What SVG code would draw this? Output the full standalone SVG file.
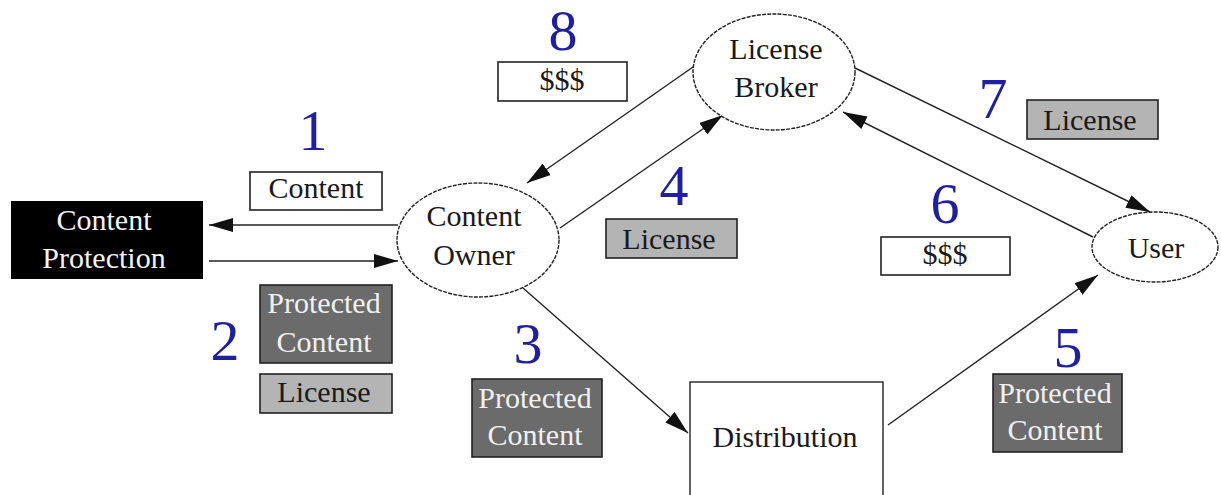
<svg xmlns="http://www.w3.org/2000/svg" width="1221" height="495" viewBox="0 0 1221 495" font-family="'Liberation Serif', 'DejaVu Serif', serif">
  <style>
    text { font-family: "Liberation Serif", "DejaVu Serif", serif; font-size: 30px; text-anchor: middle; fill: #1a1a1a; }
    .num { font-size: 58px; fill: #1f1f9f; }
    .node { fill: #ffffff; stroke: #222222; stroke-width: 1.4; }
    .oval { fill: #ffffff; stroke: #222222; stroke-width: 1.4; stroke-dasharray: 4 1.2; }
    .lbl { fill: #ffffff; stroke: #222222; stroke-width: 1.6; }
    .lic { fill: #b4b4b4; stroke: #222222; stroke-width: 1.6; }
    .prot { fill: #6b6b6b; stroke: #222222; stroke-width: 1.6; }
    .prot-t { fill: #f0f0f0; }
    .light { fill: #f2f2f2; }
    .edge { stroke: #222222; stroke-width: 1.4; fill: none; marker-end: url(#head); }
  </style>
  <defs>
    <marker id="head" viewBox="0 0 24 14" refX="24" refY="7" markerWidth="24" markerHeight="14" markerUnits="userSpaceOnUse" orient="auto">
      <path d="M0,0 L24,7 L0,14 Z" fill="#111111"/>
    </marker>
  </defs>
  <rect width="1221" height="495" fill="#ffffff"/>

  <!-- connectors -->
  <g id="connectors">
    <line class="edge" x1="398" y1="225" x2="209" y2="225"/>
    <line class="edge" x1="209" y1="261" x2="398" y2="261"/>
    <line class="edge" x1="693" y1="67" x2="527" y2="183"/>
    <line class="edge" x1="560" y1="228" x2="723" y2="115"/>
    <line class="edge" x1="855" y1="68" x2="1150" y2="212"/>
    <line class="edge" x1="1093" y1="237" x2="843" y2="112"/>
    <line class="edge" x1="523" y1="288" x2="688" y2="433"/>
    <line class="edge" x1="888" y1="425" x2="1098" y2="275"/>
  </g>

  <!-- nodes -->
  <g id="content-protection">
    <rect x="11" y="201" width="192" height="78" fill="#000000"/>
    <text class="light" x="104" y="230">Content</text>
    <text class="light" x="104" y="268">Protection</text>
  </g>
  <g id="content-owner">
    <ellipse class="oval" cx="478" cy="240" rx="81" ry="57"/>
    <text x="474" y="226">Content</text>
    <text x="474" y="265">Owner</text>
  </g>
  <g id="license-broker">
    <ellipse class="oval" cx="774" cy="72" rx="81" ry="58"/>
    <text x="776" y="59">License</text>
    <text x="776" y="97">Broker</text>
  </g>
  <g id="user">
    <ellipse class="oval" cx="1155" cy="247" rx="63" ry="35"/>
    <text x="1156" y="258">User</text>
  </g>
  <g id="distribution">
    <rect class="node" x="690" y="382" width="193" height="120"/>
    <text x="785" y="447">Distribution</text>
  </g>

  <!-- step labels -->
  <g id="step-1">
    <text class="num" x="313" y="150">1</text>
    <rect class="lbl" x="250" y="172" width="132" height="38"/>
    <text x="316" y="198">Content</text>
  </g>
  <g id="step-2">
    <text class="num" x="225" y="360">2</text>
    <rect class="prot" x="260" y="285" width="132" height="78"/>
    <text class="prot-t" x="324" y="313">Protected</text>
    <text class="prot-t" x="324" y="352">Content</text>
    <rect class="lic" x="260" y="374" width="132" height="39"/>
    <text x="324" y="402">License</text>
  </g>
  <g id="step-3">
    <text class="num" x="528" y="363">3</text>
    <rect class="prot" x="472" y="379" width="130" height="78"/>
    <text class="prot-t" x="535" y="408">Protected</text>
    <text class="prot-t" x="535" y="445">Content</text>
  </g>
  <g id="step-4">
    <text class="num" x="674" y="205">4</text>
    <rect class="lic" x="606" y="219" width="131" height="39"/>
    <text x="669" y="249">License</text>
  </g>
  <g id="step-5">
    <text class="num" x="1068" y="367">5</text>
    <rect class="prot" x="993" y="374" width="129" height="78"/>
    <text class="prot-t" x="1055" y="403">Protected</text>
    <text class="prot-t" x="1055" y="440">Content</text>
  </g>
  <g id="step-6">
    <text class="num" x="945" y="223">6</text>
    <rect class="lbl" x="881" y="237" width="129" height="38"/>
    <text x="945" y="264">$$$</text>
  </g>
  <g id="step-7">
    <text class="num" x="993" y="118">7</text>
    <rect class="lic" x="1027" y="100" width="131" height="39"/>
    <text x="1090" y="130">License</text>
  </g>
  <g id="step-8">
    <text class="num" x="563" y="50">8</text>
    <rect class="lbl" x="498" y="62" width="129" height="39"/>
    <text x="562" y="90">$$$</text>
  </g>
</svg>
